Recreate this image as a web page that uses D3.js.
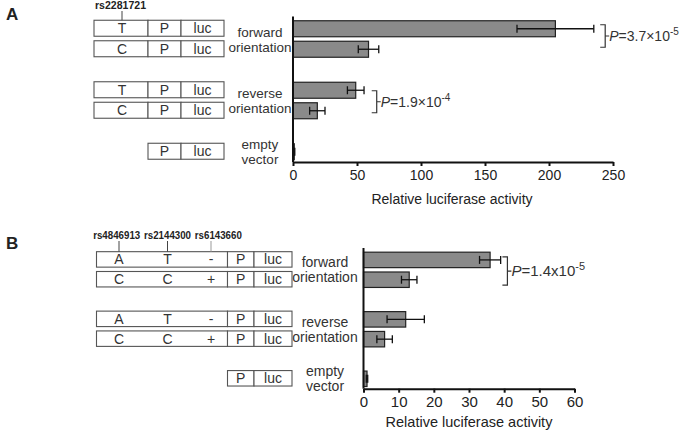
<!DOCTYPE html>
<html>
<head>
<meta charset="utf-8">
<script src="https://cdn.jsdelivr.net/npm/d3@7"></script>
<style>
body { margin: 0; background: #fff; }
text { font-family: Arial, "Liberation Sans", sans-serif; fill: #222; }
</style>
</head>
<body>
<div id="plot"></div>
<script>

// rows of both panels (two gaps between the groups)
var rows = ["fT", "fC", "g1", "rT", "rC", "g2", "e"];
var barRows = ["fT", "fC", "rT", "rC", "e"];
var groupLabels = [["forward", "orientation"], ["reverse", "orientation"], ["empty", "vector"]];

// panel A data
var valuesA = [205, 59, 49, 19, 1];
var errorsA = [30, 8, 6.5, 6, 0.4];
var allelesA = [["T"], ["C"], ["T"], ["C"], null];
var snpsA = ["rs2281721"];
var ticksA = [0, 50, 100, 150, 200, 250];

// panel B data
var valuesB = [36, 13, 12, 6, 1];
var errorsB = [3, 2.2, 5.3, 2.2, 0.2];
var allelesB = [["A", "T", "-"], ["C", "C", "+"], ["A", "T", "-"], ["C", "C", "+"], null];
var snpsB = ["rs4846913", "rs2144300", "rs6143660"];
var ticksB = [0, 10, 20, 30, 40, 50, 60];

var svg = d3.select("#plot")
	.append("svg")
	.attr("width", 688)
	.attr("height", 432);

function panel(opt) {
	var y = d3.scaleBand()
		.domain(rows)
		.range(opt.yRange)
		.paddingInner(0.22)
		.paddingOuter(0.11);

	var x = d3.scaleLinear()
		.domain([0, opt.max])
		.range(opt.xRange);

	var g = svg.append("g");

	// panel letter
	g.append("text")
		.text(opt.letter)
		.attr("x", 6)
		.attr("y", opt.letterY)
		.style("font-size", "17px")
		.style("font-weight", "bold");

	// bars + error bars
	barRows.forEach(function(r, i){
		g.append("rect")
			.attr("x", x(0))
			.attr("y", y(r))
			.attr("width", x(opt.values[i]) - x(0))
			.attr("height", y.bandwidth())
			.style("fill", "#8a8a8a")
			.style("stroke", "#222")
			.style("stroke-width", 1.2);

		var cy = y(r) + y.bandwidth() / 2;
		var lo = x(opt.values[i] - opt.errors[i]);
		var hi = x(opt.values[i] + opt.errors[i]);
		g.append("line")
			.attr("x1", lo).attr("x2", hi)
			.attr("y1", cy).attr("y2", cy)
			.style("stroke", "#111").style("stroke-width", 1.3);
		[lo, hi].forEach(function(e){
			g.append("line")
				.attr("x1", e).attr("x2", e)
				.attr("y1", cy - 4).attr("y2", cy + 4)
				.style("stroke", "#111").style("stroke-width", 1.3);
		});
	});

	// axes
	var axis = g.append("g")
		.attr("transform", "translate(0," + opt.yRange[1] + ")")
		.call(d3.axisBottom(x).tickValues(opt.ticks).tickSize(4).tickSizeOuter(0));
	axis.select(".domain").style("stroke", "#111").style("stroke-width", 2);
	axis.selectAll(".tick line").style("stroke", "#111").style("stroke-width", 2);
	axis.selectAll(".tick text")
		.attr("y", 8)
		.style("font-size", opt.tickFont + "px")
		.style("font-family", "Arial, 'Liberation Sans', sans-serif")
		.style("fill", "#222");

	g.append("line")
		.attr("x1", x(0)).attr("x2", x(0))
		.attr("y1", opt.yRange[0] - 2).attr("y2", opt.yRange[1])
		.style("stroke", "#111").style("stroke-width", 2);

	g.append("text")
		.text("Relative luciferase activity")
		.attr("x", opt.titleX)
		.attr("y", opt.titleY)
		.attr("text-anchor", "middle")
		.style("font-size", opt.titleFont + "px");

	// group labels
	[["fT", "fC"], ["rT", "rC"], ["e", "e"]].forEach(function(pair, i){
		var top = y(pair[0]);
		var bot = y(pair[1]) + y.bandwidth();
		var mid = i == 2 ? top + y.bandwidth() / 2 : (top + bot) / 2;
		groupLabels[i].forEach(function(t, k){
			g.append("text")
				.text(t)
				.attr("x", opt.labelX)
				.attr("y", mid + (k - 0.5) * opt.labelGap + 5)
				.attr("text-anchor", "middle")
				.style("font-size", opt.labelFont + "px")
				.style("fill", "#333");
		});
	});

	// constructs
	barRows.forEach(function(r, i){
		var top = y(r) - 0.5;
		var h = y.bandwidth();
		var al = opt.alleles[i];
		var cells = [];
		if (al !== null) cells.push({x0: opt.boxX[0], x1: opt.boxX[1], t: al, snp: true});
		cells.push({x0: opt.boxX[1], x1: opt.boxX[2], t: ["P"]});
		cells.push({x0: opt.boxX[2], x1: opt.boxX[3], t: ["luc"]});
		cells.forEach(function(c){
			g.append("rect")
				.attr("x", c.x0).attr("y", top)
				.attr("width", c.x1 - c.x0).attr("height", h)
				.style("fill", "#fff")
				.style("stroke", "#555")
				.style("stroke-width", 1.1);
		});
		cells.forEach(function(c){
			c.t.forEach(function(s, j){
				g.append("text").text(s)
					.attr("x", c.snp ? opt.snpX[j] : (c.x0 + c.x1) / 2)
					.attr("y", top + h / 2 + opt.boxFont * 0.36)
					.attr("text-anchor", "middle")
					.style("font-size", opt.boxFont + "px")
					.style("fill", "#333");
			});
		});
	});

	// snp names
	opt.snps.forEach(function(s, j){
		g.append("text").text(s)
			.attr("x", opt.snpLabelX[j] - opt.snpW / 2)
			.attr("y", opt.snpY)
			.attr("textLength", opt.snpW)
			.attr("lengthAdjust", "spacingAndGlyphs")
			.style("font-size", "11px")
			.style("font-weight", "bold");
		g.append("line")
			.attr("x1", opt.snpX[j]).attr("x2", opt.snpX[j])
			.attr("y1", opt.snpY + 2)
			.attr("y2", y("fT") - 0.5)
			.style("stroke", j == 2 ? "#999" : "#444")
			.style("stroke-width", 1);
	});

	// p-value brackets
	opt.pvals.forEach(function(p){
		var t = y(p.rows[0]) + y.bandwidth() / 2 + p.dt;
		var b = y(p.rows[1]) + y.bandwidth() / 2 + p.db;
		var bx = x(p.at);
		var m = (t + b) / 2;
		g.append("path")
			.attr("d", "M" + bx + "," + t + "H" + (bx + 5) + "V" + b + "H" + bx +
				"M" + (bx + 5) + "," + m + "H" + (bx + 9))
			.style("fill", "none").style("stroke", "#333").style("stroke-width", 1.2);
		var txt = g.append("text")
			.attr("x", bx + 9)
			.attr("y", m + 5)
			.style("font-size", opt.pFont + "px")
			.style("fill", "#333");
		txt.append("tspan").text("P").style("font-style", "italic");
		txt.append("tspan").text(p.text);
		txt.append("tspan").text(p.exp)
			.attr("dy", -6)
			.style("font-size", (opt.pFont - 4) + "px");
	});
}

panel({
	letter: "A", letterY: 20,
	values: valuesA, errors: errorsA, alleles: allelesA,
	max: 250, ticks: ticksA,
	xRange: [293, 613], yRange: [18.5, 162],
	tickFont: 14, titleFont: 14, titleX: 452, titleY: 204,
	labelX: 260, labelGap: 15, labelFont: 13.5,
	boxX: [94, 148, 181, 224], boxFont: 14,
	snps: snpsA, snpX: [122], snpLabelX: [120.5], snpW: 51, snpY: 9,
	pFont: 14,
	pvals: [
		{rows: ["fT", "fC"], at: 240, dt: -4, db: -2, text: "=3.7×10", exp: "-5"},
		{rows: ["rT", "rC"], at: 61.5, dt: 0.5, db: 2, text: "=1.9×10", exp: "-4"}
	]
});

panel({
	letter: "B", letterY: 249,
	values: valuesB, errors: errorsB, alleles: allelesB,
	max: 60, ticks: ticksB,
	xRange: [363.5, 574.5], yRange: [250, 388.7],
	tickFont: 15, titleFont: 14.5, titleX: 469, titleY: 427,
	labelX: 325, labelGap: 15, labelFont: 14,
	boxX: [96.5, 227.5, 254, 292], boxFont: 14,
	snps: snpsB, snpX: [119, 167.5, 211],
	snpLabelX: [116.7, 167.5, 218.3], snpW: 47, snpY: 239,
	pFont: 15,
	pvals: [
		{rows: ["fT", "fC"], at: 39.5, dt: -3, db: 5.5, text: "=1.4x10", exp: "-5"}
	]
});

</script>
</body>
</html>
